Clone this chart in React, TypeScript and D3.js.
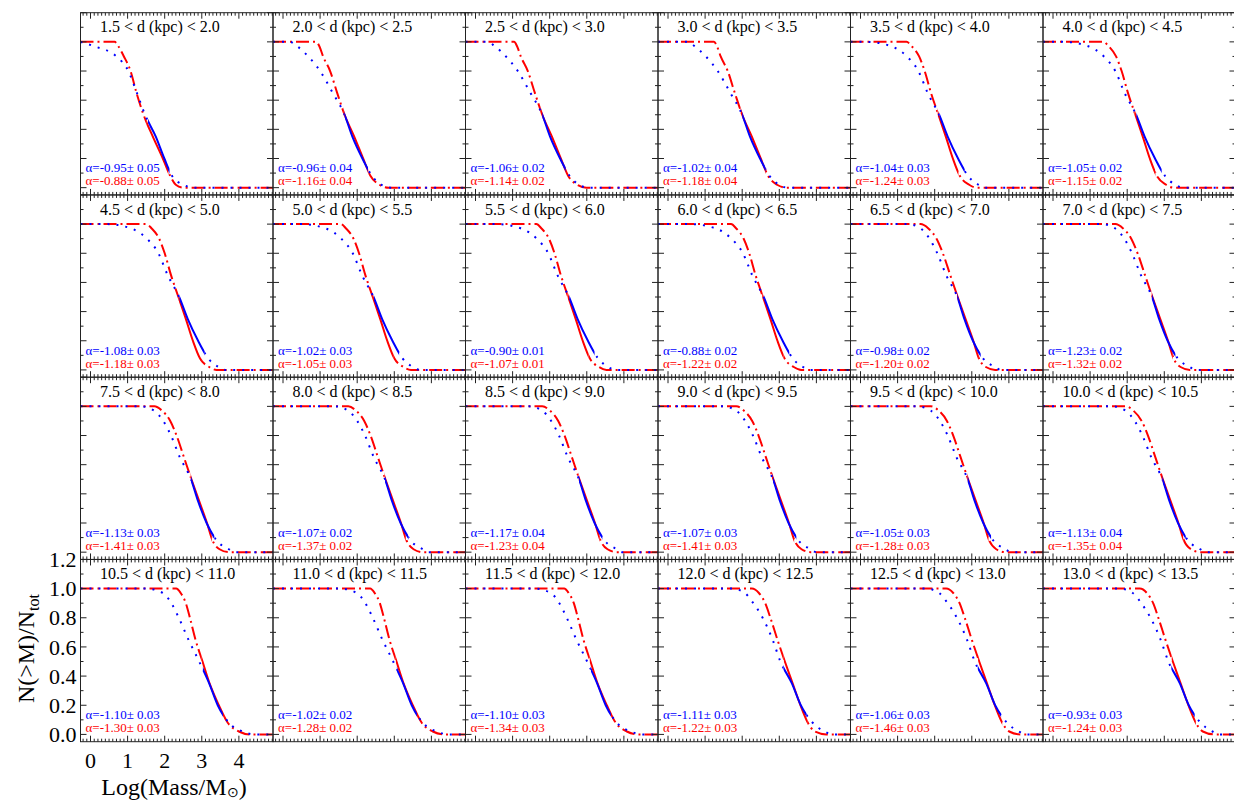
import React from 'react';
import * as d3 from 'd3';

const DIST_LABELS = [
  '1.5 < d (kpc) < 2.0', '2.0 < d (kpc) < 2.5', '2.5 < d (kpc) < 3.0', '3.0 < d (kpc) < 3.5', '3.5 < d (kpc) < 4.0', '4.0 < d (kpc) < 4.5',
  '4.5 < d (kpc) < 5.0', '5.0 < d (kpc) < 5.5', '5.5 < d (kpc) < 6.0', '6.0 < d (kpc) < 6.5', '6.5 < d (kpc) < 7.0', '7.0 < d (kpc) < 7.5',
  '7.5 < d (kpc) < 8.0', '8.0 < d (kpc) < 8.5', '8.5 < d (kpc) < 9.0', '9.0 < d (kpc) < 9.5', '9.5 < d (kpc) < 10.0', '10.0 < d (kpc) < 10.5',
  '10.5 < d (kpc) < 11.0', '11.0 < d (kpc) < 11.5', '11.5 < d (kpc) < 12.0', '12.0 < d (kpc) < 12.5', '12.5 < d (kpc) < 13.0', '13.0 < d (kpc) < 13.5',
];

const ALPHA_BLUE = [
  '-0.95± 0.05', '-0.96± 0.04', '-1.06± 0.02', '-1.02± 0.04', '-1.04± 0.03', '-1.05± 0.02',
  '-1.08± 0.03', '-1.02± 0.03', '-0.90± 0.01', '-0.88± 0.02', '-0.98± 0.02', '-1.23± 0.02',
  '-1.13± 0.03', '-1.07± 0.02', '-1.17± 0.04', '-1.07± 0.03', '-1.05± 0.03', '-1.13± 0.04',
  '-1.10± 0.03', '-1.02± 0.02', '-1.10± 0.03', '-1.11± 0.03', '-1.06± 0.03', '-0.93± 0.03',
];
const ALPHA_RED = [
  '-0.88± 0.05', '-1.16± 0.04', '-1.14± 0.02', '-1.18± 0.04', '-1.24± 0.03', '-1.15± 0.02',
  '-1.18± 0.03', '-1.05± 0.03', '-1.07± 0.01', '-1.22± 0.02', '-1.20± 0.02', '-1.32± 0.02',
  '-1.41± 0.03', '-1.37± 0.02', '-1.23± 0.04', '-1.41± 0.03', '-1.28± 0.03', '-1.35± 0.04',
  '-1.30± 0.03', '-1.28± 0.02', '-1.34± 0.03', '-1.22± 0.03', '-1.46± 0.03', '-1.24± 0.03',
];

// N(>M)/Ntot levels at which the log-mass positions are read
const LEVELS = [1.0, 0.97, 0.9, 0.8, 0.65, 0.5, 0.35, 0.2, 0.08, 0.02, 0.0];

const BLUE_X = [
  [-0.3, 0.1, 0.7, 1.02, 1.25, 1.47, 1.76, 1.99, 2.2, 2.5, 2.8],
  [0.18, 0.38, 0.68, 1.0, 1.34, 1.66, 1.87, 2.14, 2.4, 2.65, 2.9],
  [0.32, 0.52, 0.82, 1.14, 1.48, 1.80, 2.01, 2.28, 2.54, 2.79, 3.04],
  [0.52, 0.72, 1.02, 1.34, 1.68, 2.00, 2.21, 2.48, 2.74, 2.99, 3.24],
  [0.16, 0.83, 1.25, 1.56, 1.81, 2.12, 2.35, 2.63, 2.90, 3.18, 3.38],
  [0.28, 0.95, 1.37, 1.68, 1.93, 2.24, 2.47, 2.75, 3.02, 3.30, 3.50],
  [0.43, 1.1, 1.52, 1.83, 2.08, 2.39, 2.62, 2.9, 3.17, 3.45, 3.65],
  [0.48, 1.15, 1.57, 1.88, 2.13, 2.44, 2.67, 2.95, 3.22, 3.50, 3.70],
  [0.56, 1.23, 1.65, 1.96, 2.21, 2.52, 2.75, 3.03, 3.30, 3.58, 3.78],
  [0.62, 1.29, 1.71, 2.02, 2.27, 2.58, 2.81, 3.09, 3.36, 3.64, 3.84],
  [1.26, 1.62, 1.86, 2.07, 2.31, 2.61, 2.80, 3.03, 3.30, 3.63, 3.78],
  [1.32, 1.68, 1.92, 2.13, 2.37, 2.67, 2.86, 3.09, 3.36, 3.69, 3.84],
  [1.36, 1.72, 1.96, 2.17, 2.41, 2.71, 2.90, 3.13, 3.40, 3.73, 3.88],
  [1.40, 1.76, 2.00, 2.21, 2.45, 2.75, 2.94, 3.17, 3.44, 3.77, 3.92],
  [1.44, 1.80, 2.04, 2.25, 2.49, 2.79, 2.98, 3.21, 3.48, 3.81, 3.96],
  [1.48, 1.84, 2.08, 2.29, 2.53, 2.83, 3.02, 3.25, 3.52, 3.85, 4.0],
  [1.54, 1.90, 2.14, 2.35, 2.59, 2.89, 3.08, 3.31, 3.58, 3.91, 4.06],
  [1.60, 1.96, 2.20, 2.41, 2.65, 2.95, 3.14, 3.37, 3.64, 3.97, 4.12],
  [1.51, 1.95, 2.18, 2.38, 2.64, 2.93, 3.2, 3.43, 3.73, 4.1, 4.45],
  [1.55, 1.99, 2.22, 2.42, 2.68, 2.97, 3.24, 3.47, 3.77, 4.14, 4.49],
  [1.59, 2.03, 2.26, 2.46, 2.72, 3.01, 3.28, 3.51, 3.81, 4.18, 4.53],
  [1.72, 2.07, 2.30, 2.55, 2.82, 3.03, 3.34, 3.58, 3.90, 4.22, 4.42],
  [1.77, 2.12, 2.35, 2.60, 2.87, 3.08, 3.39, 3.63, 3.95, 4.27, 4.47],
  [1.8, 2.15, 2.38, 2.63, 2.9, 3.11, 3.42, 3.66, 3.98, 4.3, 4.5],
];

const RED_X = [
  [0.65, 0.75, 0.9, 1.08, 1.24, 1.43, 1.68, 1.95, 2.15, 2.3, 2.5],
  [0.9, 0.98, 1.08, 1.27, 1.46, 1.66, 1.92, 2.16, 2.36, 2.6, 2.85],
  [1.04, 1.12, 1.22, 1.41, 1.60, 1.80, 2.06, 2.30, 2.50, 2.74, 2.99],
  [1.24, 1.32, 1.42, 1.61, 1.80, 2.00, 2.26, 2.50, 2.70, 2.94, 3.19],
  [1.24, 1.38, 1.58, 1.73, 1.90, 2.10, 2.30, 2.49, 2.68, 2.93, 3.13],
  [1.36, 1.50, 1.70, 1.85, 2.02, 2.22, 2.42, 2.61, 2.80, 3.05, 3.25],
  [1.51, 1.65, 1.85, 2.0, 2.17, 2.37, 2.57, 2.76, 2.95, 3.2, 3.4],
  [1.56, 1.70, 1.90, 2.05, 2.22, 2.42, 2.62, 2.81, 3.00, 3.25, 3.45],
  [1.64, 1.78, 1.98, 2.13, 2.30, 2.50, 2.70, 2.89, 3.08, 3.33, 3.53],
  [1.70, 1.84, 2.04, 2.19, 2.36, 2.56, 2.76, 2.95, 3.14, 3.39, 3.59],
  [1.62, 1.83, 2.05, 2.22, 2.42, 2.62, 2.83, 3.04, 3.19, 3.38, 3.63],
  [1.68, 1.89, 2.11, 2.28, 2.48, 2.68, 2.89, 3.10, 3.25, 3.44, 3.69],
  [1.72, 1.93, 2.15, 2.32, 2.52, 2.72, 2.93, 3.14, 3.29, 3.48, 3.73],
  [1.76, 1.97, 2.19, 2.36, 2.56, 2.76, 2.97, 3.18, 3.33, 3.52, 3.77],
  [1.80, 2.01, 2.23, 2.40, 2.60, 2.80, 3.01, 3.22, 3.37, 3.56, 3.81],
  [1.84, 2.05, 2.27, 2.44, 2.64, 2.84, 3.05, 3.26, 3.41, 3.6, 3.85],
  [1.90, 2.11, 2.33, 2.50, 2.70, 2.90, 3.11, 3.32, 3.47, 3.66, 3.91],
  [1.96, 2.17, 2.39, 2.56, 2.76, 2.96, 3.17, 3.38, 3.53, 3.72, 3.97],
  [2.31, 2.43, 2.57, 2.68, 2.83, 3.02, 3.21, 3.46, 3.7, 4.0, 4.3],
  [2.35, 2.47, 2.61, 2.72, 2.87, 3.06, 3.25, 3.50, 3.74, 4.04, 4.34],
  [2.39, 2.51, 2.65, 2.76, 2.91, 3.10, 3.29, 3.54, 3.78, 4.08, 4.38],
  [2.26, 2.45, 2.62, 2.76, 2.95, 3.15, 3.36, 3.57, 3.77, 3.96, 4.27],
  [2.31, 2.50, 2.67, 2.81, 3.00, 3.20, 3.41, 3.62, 3.82, 4.01, 4.32],
  [2.34, 2.53, 2.7, 2.84, 3.03, 3.23, 3.44, 3.65, 3.85, 4.04, 4.35],
];

// fit ranges (solid segments), log mass
const BLUE_FIT = [
  [1.55, 2.13], [1.66, 2.29], [1.80, 2.43], [2.0, 2.63], [2.13, 2.81], [2.25, 2.93],
  [2.4, 3.08], [2.45, 3.13], [2.53, 3.21], [2.59, 3.27], [2.61, 3.24], [2.67, 3.30],
  [2.71, 3.34], [2.75, 3.38], [2.79, 3.42], [2.83, 3.46], [2.89, 3.52], [2.95, 3.58],
  [3.03, 3.57], [3.07, 3.61], [3.11, 3.65], [3.11, 3.74], [3.16, 3.79], [3.19, 3.82],
];
const RED_FIT = [
  [1.5, 2.1], [1.62, 2.3], [1.76, 2.44], [1.96, 2.64], [2.08, 2.64], [2.2, 2.76],
  [2.38, 2.98], [2.4, 2.97], [2.48, 3.05], [2.54, 3.11], [2.6, 3.17], [2.66, 3.23],
  [2.7, 3.27], [2.74, 3.31], [2.78, 3.35], [2.8, 3.4], [2.88, 3.45], [2.94, 3.51],
  [3.0, 3.6], [3.04, 3.64], [3.08, 3.68], [3.12, 3.77], [3.17, 3.82], [3.2, 3.85],
];

const X_TICKS = [0, 1, 2, 3, 4];
const Y_TICKS = [0.0, 0.2, 0.4, 0.6, 0.8, 1.0, 1.2];

const W = 1234, H = 801;
const COLS = 6, ROWS = 4;
const PX0 = 80.5, PW = 192.5, PY0 = 12.7, PH = 182.25;
const XDOM: [number, number] = [-0.27, 4.92];
const YDOM: [number, number] = [-0.05, 1.2];
const FONT = '"Liberation Serif", "Times New Roman", serif';
const BLUE = '#0000ff', RED = '#ff0000';

const xs = d3.scaleLinear().domain(XDOM).range([0, PW]);
const ys = d3.scaleLinear().domain(YDOM).range([PH, 0]);

function curvePath(xv: number[]) {
  const pts: [number, number][] = [[XDOM[0], 1]];
  LEVELS.forEach((y, i) => pts.push([xv[i], y]));
  pts.push([XDOM[1], 0]);
  const clean: [number, number][] = [];
  pts.forEach(p => {
    if (!clean.length || p[0] > clean[clean.length - 1][0] + 1e-6) clean.push(p);
  });
  const line = d3.line<[number, number]>().x(d => xs(d[0])).y(d => ys(d[1])).curve(d3.curveMonotoneX);
  return line(clean) || '';
}

function Ticks() {
  const els: React.ReactNode[] = [];
  const xMinor = d3.range(-2, 50).map(i => i / 10).filter(v => v >= XDOM[0] && v <= XDOM[1]);
  const yMinor = d3.range(0, 13).map(i => i / 10);
  xMinor.forEach((v, i) => {
    const major = Math.abs(v - Math.round(v)) < 1e-6;
    const L = major ? 6 : 3;
    const x = xs(v);
    els.push(<line key={'xb' + i} x1={x} x2={x} y1={PH} y2={PH - L} />);
    els.push(<line key={'xt' + i} x1={x} x2={x} y1={0} y2={L} />);
  });
  yMinor.forEach((v, i) => {
    const major = Math.abs(v * 5 - Math.round(v * 5)) < 1e-6;
    const L = major ? 6 : 3;
    const y = ys(v);
    els.push(<line key={'yl' + i} x1={0} x2={L} y1={y} y2={y} />);
    els.push(<line key={'yr' + i} x1={PW} x2={PW - L} y1={y} y2={y} />);
  });
  return <g stroke="#222" strokeWidth={1}>{els}</g>;
}

function Series({ idx, xv, fit, color, dash, width }: { idx: string; xv: number[]; fit: number[]; color: string; dash: string; width: number }) {
  const d = curvePath(xv);
  const a = xs(fit[0]), b = xs(fit[1]);
  return (
    <g>
      <defs>
        <clipPath id={`out-${idx}`}>
          <rect x={0} y={0} width={a} height={PH} />
          <rect x={b} y={0} width={PW - b} height={PH} />
        </clipPath>
        <clipPath id={`in-${idx}`}>
          <rect x={a} y={0} width={b - a} height={PH} />
        </clipPath>
      </defs>
      <path d={d} fill="none" stroke={color} strokeWidth={width} strokeDasharray={dash} clipPath={`url(#out-${idx})`} />
      <path d={d} fill="none" stroke={color} strokeWidth={width} clipPath={`url(#in-${idx})`} />
    </g>
  );
}

function Panel({ i }: { i: number }) {
  const c = i % COLS, r = Math.floor(i / COLS);
  const tx = PX0 + c * PW, ty = PY0 + r * PH;
  return (
    <g transform={`translate(${tx},${ty})`}>
      <clipPath id={`pc-${i}`}><rect x={0} y={0} width={PW} height={PH} /></clipPath>
      <g clipPath={`url(#pc-${i})`}>
        <Series idx={`r${i}`} xv={RED_X[i]} fit={RED_FIT[i]} color={RED} dash="13,4,2,4" width={2} />
        <Series idx={`b${i}`} xv={BLUE_X[i]} fit={BLUE_FIT[i]} color={BLUE} dash="2,7" width={2} />
      </g>
      <rect x={0} y={0} width={PW} height={PH} fill="none" stroke="#222" strokeWidth={1} />
      <Ticks />
      <text x={19.5} y={19.8} fontFamily={FONT} fontSize={16} fill="#000">{DIST_LABELS[i]}</text>
      <text x={5} y={PH - 22.5} fontFamily={FONT} fontSize={13} fill={BLUE}>{'α=' + ALPHA_BLUE[i]}</text>
      <text x={5} y={PH - 9.5} fontFamily={FONT} fontSize={13} fill={RED}>{'α=' + ALPHA_RED[i]}</text>
    </g>
  );
}

export default function App() {
  const bx = PX0, by = PY0 + 3 * PH;
  return (
    <svg width={W} height={H} style={{ position: 'absolute', left: 0, top: 0, background: '#fff' }}>
      <rect x={0} y={0} width={W} height={H} fill="#fff" />
      {d3.range(COLS * ROWS).map(i => <Panel key={i} i={i} />)}
      <g transform={`translate(${bx},${by})`} fontFamily={FONT} fontSize={22} fill="#000">
        {Y_TICKS.map(v => (
          <text key={'yt' + v} x={-4} y={ys(v)} dy="0.35em" textAnchor="end">{v.toFixed(1)}</text>
        ))}
        {X_TICKS.map(v => (
          <text key={'xt' + v} x={xs(v)} y={PH + 26.5} textAnchor="middle">{String(v)}</text>
        ))}
      </g>
      <text x={bx + xs(2.25)} y={795} textAnchor="middle" fontFamily={FONT} fontSize={24} fill="#000">
        Log(Mass/M<tspan fontSize={14} dy={2}>⊙</tspan><tspan dy={-2}>)</tspan>
      </text>
      <text transform={`translate(34,${by + PH / 2 - 2}) rotate(-90)`} textAnchor="middle" fontFamily={FONT} fontSize={24} fill="#000">
        N(&gt;M)/N<tspan fontSize={16} dy={5}>tot</tspan>
      </text>
    </svg>
  );
}
